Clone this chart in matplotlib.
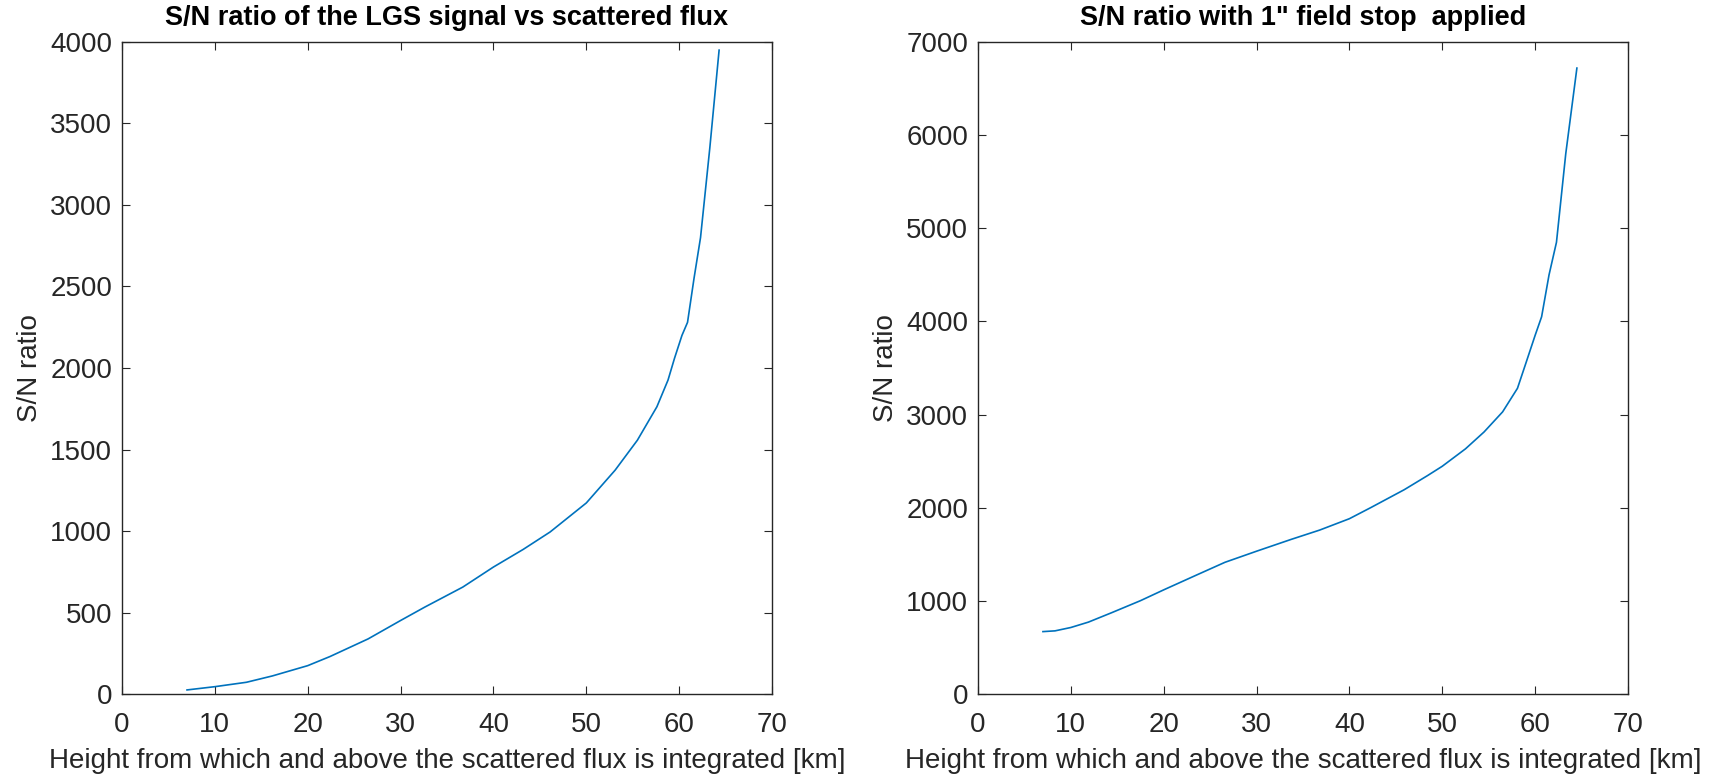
import numpy as np
import matplotlib
matplotlib.use("Agg")
import matplotlib.pyplot as plt

plt.rcParams["font.family"] = ["Liberation Sans", "DejaVu Sans"]

# ----- data -----
h_left = [7.0, 10.0, 13.4, 16.2, 20.0, 22.4, 26.5, 30.0, 32.6, 36.7, 40.0, 43.2,
          46.1, 50.0, 53.1, 55.5, 57.6, 58.8, 59.5, 60.3, 60.9, 61.6, 62.3, 63.3, 64.3]
sn_left = [25, 45, 72, 111, 174, 230, 338, 451, 533, 656, 779, 887,
           994, 1172, 1373, 1557, 1762, 1926, 2060, 2200, 2280, 2550, 2800, 3350, 3950]

h_right = [7.0, 8.3, 10.0, 11.9, 14.4, 17.5, 20.0, 23.6, 26.6, 30.0, 33.7, 36.8,
           40.0, 42.3, 45.9, 48.4, 50.0, 52.5, 54.5, 56.5, 58.1, 59.0, 60.0, 60.7,
           61.5, 62.3, 63.3, 64.5]
sn_right = [670, 678, 714, 772, 873, 1002, 1118, 1280, 1414, 1533, 1659, 1760,
            1882, 2001, 2193, 2344, 2445, 2632, 2813, 3029, 3282, 3550, 3850, 4050,
            4500, 4850, 5800, 6720]

titles = ["S/N ratio of the LGS signal vs scattered flux",
          'S/N ratio with 1" field stop  applied']
xlab = "Height from which and above the scattered flux is integrated [km]"
ylab = "S/N ratio"
xticks = [0, 10, 20, 30, 40, 50, 60, 70]
yticks_left = [0, 500, 1000, 1500, 2000, 2500, 3000, 3500, 4000]
yticks_right = [0, 1000, 2000, 3000, 4000, 5000, 6000, 7000]

line_col = "#0072BD"
ax_col = "#262626"

fig = plt.figure(figsize=(17.16, 7.79), dpi=100)
ax1 = fig.add_axes([0.0711, 0.1091, 0.3788, 0.8370])
ax2 = fig.add_axes([0.5699, 0.1091, 0.3788, 0.8370])


def style(ax, x, y, title, yticks):
    ax.plot(x, y, color=line_col, lw=1.2)
    ax.set_xlim(0, 70)
    ax.set_ylim(yticks[0], yticks[-1])
    ax.set_xticks(xticks)
    ax.set_yticks(yticks)
    ax.set_title(title, fontsize=19.5, fontweight="bold", color="black", pad=12)
    ax.set_xlabel(xlab, fontsize=20, color=ax_col, labelpad=7)
    ax.set_ylabel(ylab, fontsize=20, color=ax_col, labelpad=5)
    ax.tick_params(direction="in", length=6, width=0.8, colors=ax_col,
                   labelsize=20, top=True, right=True)
    ax.tick_params(axis="x", pad=13)
    ax.tick_params(axis="y", pad=7)
    for s in ax.spines.values():
        s.set_color(ax_col)
        s.set_linewidth(1.0)


style(ax1, h_left, sn_left, titles[0], yticks_left)
style(ax2, h_right, sn_right, titles[1], yticks_right)

fig.savefig("out.png", dpi=100, facecolor="white")
